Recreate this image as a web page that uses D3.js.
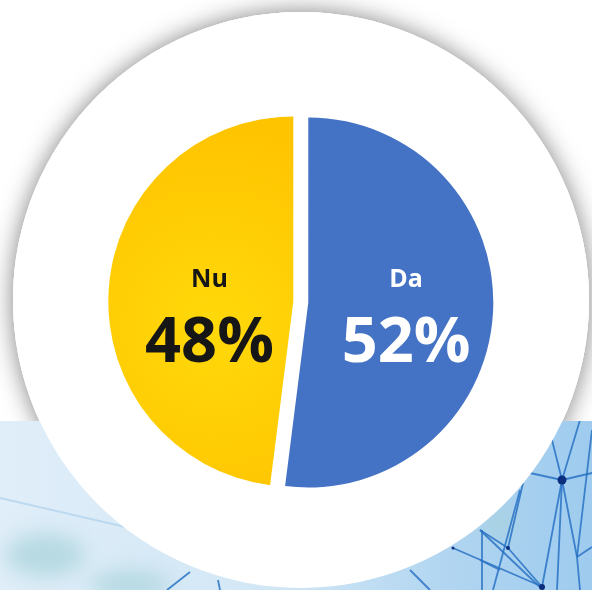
<!DOCTYPE html>
<html>
<head>
  <script src="https://d3js.org/d3.v7.min.js"></script>
  <style>
    body {
      margin: 0;
      background-color: #ffffff;
      font-family: 'Open Sans', 'Noto Sans', Arial, sans-serif;
    }
    svg { display: block; }
    .name-label {
      font-size: 25px;
      font-weight: bold;
      text-anchor: middle;
    }
    .pct-label {
      font-size: 63px;
      font-weight: bold;
      text-anchor: middle;
    }
  </style>
</head>
<body>
  <svg id="chart" width="592" height="590"></svg>

  <script>
    // Data
    const categories = ["Da", "Nu"];
    const values = [52, 48];
    const sliceColors = ["#4472c4", "url(#goldGradient)"];
    const textColors = ["#ffffff", "#161616"];

    // Decorative network in the background photo (not data)
    const netLines = [
      [480, 530, 543, 590], [453, 548, 543, 587], [520, 490, 493, 590],
      [482, 530, 482, 590], [410, 570, 430, 590], [562, 480, 580, 420],
      [562, 480, 552, 440], [562, 480, 592, 473], [562, 480, 530, 473],
      [562, 480, 542, 587], [562, 480, 557, 590], [562, 480, 577, 557],
      [577, 557, 592, 547], [577, 557, 580, 590], [508, 548, 523, 483],
      [508, 548, 542, 587], [480, 530, 508, 548], [480, 560, 500, 570],
      [190, 572, 167, 590], [218, 580, 220, 590], [552, 440, 545, 421],
      [592, 430, 577, 557]
    ];
    const netNodes = [[562, 480, 4.5], [542, 587, 3], [508, 548, 2], [453, 548, 1.5]];

    const svg = d3.select("#chart");
    const width = 592;
    const height = 590;
    const horizon = 421;

    const defs = svg.append("defs");

    const shadow = defs.append("filter")
      .attr("id", "shadow")
      .attr("x", "-20%").attr("y", "-20%")
      .attr("width", "140%").attr("height", "140%");
    shadow.append("feDropShadow")
      .attr("dx", 0).attr("dy", 0)
      .attr("stdDeviation", 12)
      .attr("flood-color", "#000")
      .attr("flood-opacity", 0.5);

    const blur = defs.append("filter").attr("id", "blur");
    blur.append("feGaussianBlur").attr("stdDeviation", 10);

    const bgGradient = defs.append("linearGradient")
      .attr("id", "bgGradient")
      .attr("x1", "0%").attr("y1", "0%")
      .attr("x2", "100%").attr("y2", "0%");
    bgGradient.append("stop").attr("offset", "0%").attr("stop-color", "#e0eef9");
    bgGradient.append("stop").attr("offset", "45%").attr("stop-color", "#d2e7f5");
    bgGradient.append("stop").attr("offset", "75%").attr("stop-color", "#b2d6f1");
    bgGradient.append("stop").attr("offset", "100%").attr("stop-color", "#9ecbee");

    // gradient coordinates are local to the slice (pie centre = 0,0)
    const goldGradient = defs.append("radialGradient")
      .attr("id", "goldGradient")
      .attr("gradientUnits", "userSpaceOnUse")
      .attr("cx", -80).attr("cy", 25).attr("r", 200);
    goldGradient.append("stop").attr("offset", "0%").attr("stop-color", "#ffd90a");
    goldGradient.append("stop").attr("offset", "100%").attr("stop-color", "#ffc400");

    defs.append("clipPath").attr("id", "bottomClip")
      .append("rect")
      .attr("x", 0).attr("y", horizon)
      .attr("width", width).attr("height", height - horizon);

    // Big white disc with shadow
    const discX = 301, discY = 300, discR = 288;

    svg.append("rect")
      .attr("width", width).attr("height", height)
      .attr("fill", "#ffffff");

    svg.append("circle")
      .attr("cx", discX).attr("cy", discY).attr("r", discR)
      .attr("fill", "#ffffff")
      .attr("filter", "url(#shadow)");

    // Lower background photo
    const photo = svg.append("g").attr("clip-path", "url(#bottomClip)");
    photo.append("rect")
      .attr("x", 0).attr("y", horizon)
      .attr("width", width).attr("height", height - horizon)
      .attr("fill", "url(#bgGradient)");

    photo.append("g").attr("filter", "url(#blur)")
      .selectAll("ellipse")
      .data([[45, 555, 40, 22], [130, 585, 40, 15], [500, 523, 15, 15]])
      .enter()
      .append("ellipse")
      .attr("cx", d => d[0]).attr("cy", d => d[1])
      .attr("rx", d => d[2]).attr("ry", d => d[3])
      .attr("fill", "#a6d2d9")
      .attr("opacity", 0.7);

    photo.append("line")
      .attr("x1", 0).attr("y1", 498).attr("x2", 160).attr("y2", 535)
      .attr("stroke", "#bcd9ef").attr("stroke-width", 2);

    photo.selectAll(".net")
      .data(netLines)
      .enter()
      .append("line")
      .attr("class", "net")
      .attr("x1", d => d[0]).attr("y1", d => d[1])
      .attr("x2", d => d[2]).attr("y2", d => d[3])
      .attr("stroke", "#2a73c4")
      .attr("stroke-width", 1.8)
      .attr("opacity", 0.85);

    photo.selectAll(".net-node")
      .data(netNodes)
      .enter()
      .append("circle")
      .attr("class", "net-node")
      .attr("cx", d => d[0]).attr("cy", d => d[1]).attr("r", d => d[2])
      .attr("fill", "#0b2f7e");

    svg.append("circle")
      .attr("cx", discX).attr("cy", discY).attr("r", discR)
      .attr("fill", "#ffffff");

    // Pie
    const pieX = 300.8, pieY = 302, pieR = 185;
    const explode = 7.5;
    const labelR = 91;
    const labelShift = 7;

    const pie = d3.pie().sort(null).value(d => d.value);
    const arc = d3.arc().innerRadius(0).outerRadius(pieR);
    const labelArc = d3.arc().innerRadius(labelR).outerRadius(labelR);

    const data = categories.map((c, i) => ({ name: c, value: values[i], color: sliceColors[i], text: textColors[i] }));
    const total = d3.sum(values);
    const arcs = pie(data);

    const g = svg.append("g").attr("transform", `translate(${pieX},${pieY})`);

    const slices = g.selectAll(".slice")
      .data(arcs)
      .enter()
      .append("g")
      .attr("class", "slice")
      .attr("transform", d => {
        const mid = (d.startAngle + d.endAngle) / 2;
        return `translate(${Math.sin(mid) * explode},${-Math.cos(mid) * explode})`;
      });

    slices.append("path")
      .attr("d", arc)
      .attr("fill", d => d.data.color);

    slices.append("text")
      .attr("class", "name-label")
      .attr("x", d => labelArc.centroid(d)[0] + labelShift)
      .attr("y", -15)
      .attr("fill", d => d.data.text)
      .text(d => d.data.name);

    slices.append("text")
      .attr("class", "pct-label")
      .attr("x", d => labelArc.centroid(d)[0] + labelShift)
      .attr("y", 60)
      .attr("fill", d => d.data.text)
      .text(d => Math.round(d.data.value / total * 100) + "%");
  </script>
</body>
</html>
